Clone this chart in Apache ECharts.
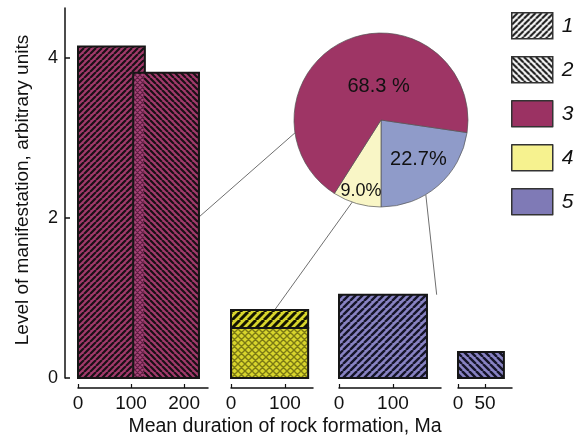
<!DOCTYPE html>
<html><head><meta charset="utf-8">
<script src="https://cdn.jsdelivr.net/npm/echarts@6/dist/echarts.min.js"></script>
<style>html,body{margin:0;padding:0;background:#fff}#c{width:579px;height:442px}</style>
</head><body><div id="c"></div>
<script>
// ---- data ----
const yTicks = [0, 2, 4];
const yMax = 4.62;
const axisMax = [245, 152, 189, 100];
const xTickLabels = [[0, 100, 200], [0, 100], [0, 100], [0, 50]];
const barGroup = [0, 0, 1, 1, 2, 3];
const barFrom = [0, 104, 0, 0, 0, 0];
const barTo = [126, 228, 143, 143, 163, 85];
const barLow = [0, 0, 0, 0.625, 0, 0];
const barHigh = [4.14, 3.81, 0.625, 0.85, 1.04, 0.325];
const barRock = ['3', '3', '4', '4', '5', '5'];
const barHatch = ['1', '2', '1+2', '1', '1', '2'];
const pieNames = ['5', '4', '3'];
const pieValues = [22.7, 9.0, 68.3];
const pieLabels = ['22.7%', '9.0%', '68.3 %'];
const legendNames = ['1', '2', '3', '4', '5'];
const linkBar = [[0, 228, 2.01], [1, 81, 0.85], [2, 181, 1.04]];
const linkAngle = [188.5, -109.3, -59];

// ---- styles ----
function makePattern(bg, ink, p, lw, dirs) {
  const c = document.createElement('canvas'); c.width = p; c.height = p;
  const g = c.getContext('2d');
  g.fillStyle = bg; g.fillRect(0, 0, p, p);
  g.strokeStyle = ink; g.lineWidth = lw;
  g.beginPath();
  dirs.forEach(d => {
    for (let k = -1; k <= 1; k++) {
      if (d === '/') { g.moveTo(k * p, p); g.lineTo(k * p + p, 0); }
      else { g.moveTo(k * p, 0); g.lineTo(k * p + p, p); }
    }
  });
  g.stroke();
  return { image: c, repeat: 'repeat' };
}
const fills = {
  '3|1': makePattern('#a23a6b', '#1a1016', 6, 2.2, ['/']),
  '3|2': makePattern('#a23a6b', '#1a1016', 6, 2.2, ['\\']),
  '3|1+2': makePattern('#a8457a', '#5e1e40', 5, 1.1, ['/', '\\']),
  '4|1': makePattern('#d8d52c', '#141400', 8, 3, ['/']),
  '4|1+2': makePattern('#d8d52c', '#7c7a14', 7, 1.4, ['/', '\\']),
  '5|1': makePattern('#8883c3', '#16152a', 7, 2.4, ['/']),
  '5|2': makePattern('#8883c3', '#16152a', 7, 2.4, ['\\'])
};
const legendFills = [
  makePattern('#ffffff', '#111111', 6, 2, ['/']),
  makePattern('#ffffff', '#111111', 6, 2, ['\\']),
  '#9b3263', '#f6f28f', '#7f7ab6'
];
const pieColors = ['#8f9bc9', '#f9f6c6', '#9e3565'];
const pieCenter = [381, 120], pieRadius = 87;

// ---- pieces per group ----
const groups = [[], [], [], []];
barGroup.forEach((g, i) => {
  groups[g].push({ v: [barFrom[i], barTo[i], barLow[i], barHigh[i]], key: barRock[i] + '|' + barHatch[i], overlap: false });
});
{
  const f = Math.max(barFrom[0], barFrom[1]), t = Math.min(barTo[0], barTo[1]);
  if (t > f) groups[0].push({ v: [f, t, 0, Math.min(barHigh[0], barHigh[1])], key: '3|1+2', overlap: true });
}

const gridPos = [{ left: 78, width: 130 }, { left: 231, width: 82 }, { left: 339, width: 102 }, { left: 458, width: 54 }];
const ink = '#111';

const option = {
  animation: false,
  textStyle: { fontFamily: 'Liberation Sans, Arial, sans-serif' },
  title: {
    text: 'Mean duration of rock formation, Ma', left: 280, top: 412, textAlign: 'center',
    textStyle: { fontSize: 19.5, fontWeight: 'normal', color: ink }
  },
  legend: {
    orient: 'vertical', left: 511, top: 12, padding: 0, itemWidth: 41, itemHeight: 26, itemGap: 16.5,
    icon: 'rect', selectedMode: false,
    textStyle: { fontSize: 21, fontStyle: 'italic', color: ink, padding: [0, 0, 0, 4] },
    data: legendNames.map((n, i) => ({ name: n, itemStyle: { color: legendFills[i], borderColor: '#333', borderWidth: 1.5 } }))
  },
  grid: gridPos.map(p => ({ left: p.left, width: p.width, top: 8, bottom: 64, containLabel: false, outerBoundsMode: 'none' })),
  xAxis: gridPos.map((p, i) => ({
    type: 'value', gridIndex: i, min: 0, max: axisMax[i], offset: 10,
    axisLine: { show: true, onZero: false, lineStyle: { color: ink, width: 1.5 } },
    axisTick: { show: true, inside: true, length: 4, customValues: xTickLabels[i], lineStyle: { color: ink, width: 1.2 } },
    axisLabel: { customValues: xTickLabels[i], fontSize: 19, color: ink, margin: 6 },
    splitLine: { show: false }
  })),
  yAxis: gridPos.map((p, i) => ({
    type: 'value', gridIndex: i, min: 0, max: yMax, show: i === 0, offset: 13,
    axisLine: { show: true, onZero: false, lineStyle: { color: ink, width: 1.5 } },
    axisTick: { show: true, inside: true, length: 5, customValues: yTicks, lineStyle: { color: ink, width: 1.5 } },
    axisLabel: { customValues: yTicks, fontSize: 18, color: ink, margin: 7 },
    splitLine: { show: false },
    name: i === 0 ? 'Level of manifestation, arbitrary units' : '',
    nameLocation: 'middle', nameGap: 33,
    nameTextStyle: { fontSize: 19, color: ink, padding: [0, 0, 0, 6] }
  })),
  series: [
    ...groups.map((pieces, g) => ({
      type: 'custom', name: 'group' + g, xAxisIndex: g, yAxisIndex: g, clip: false,
      encode: { x: [0, 1], y: [2, 3] },
      data: pieces.map(p => p.v),
      renderItem: (params, api) => {
        const pc = pieces[params.dataIndex];
        const a = api.coord([api.value(0), api.value(3)]);
        const b = api.coord([api.value(1), api.value(2)]);
        const x = a[0], y = a[1], w = b[0] - a[0], h = b[1] - a[1];
        if (pc.overlap) {
          return { type: 'rect', shape: { x: x + 1.2, y: y + 1.2, width: w - 2.4, height: h - 2.4 }, style: { fill: fills[pc.key] } };
        }
        return { type: 'rect', shape: { x, y, width: w, height: h }, style: { fill: fills[pc.key], stroke: '#161616', lineWidth: 2 } };
      }
    })),
    { type: 'custom', name: '1', xAxisIndex: 0, yAxisIndex: 0, data: [], renderItem: () => null },
    { type: 'custom', name: '2', xAxisIndex: 0, yAxisIndex: 0, data: [], renderItem: () => null },
    {
      type: 'pie', center: pieCenter, radius: pieRadius, startAngle: 351.7, clockwise: true,
      avoidLabelOverlap: false, silent: true, z: 5,
      itemStyle: { borderColor: '#555', borderWidth: 0.7 },
      label: { show: true, position: 'inside', color: ink, fontSize: 20,
        formatter: p => pieLabels[p.dataIndex] },
      labelLine: { show: false },
      labelLayout: p => {
        const s = [[3.5, 2], [-3.5, 13], [8.5, 4.5]][p.dataIndex];
        return { dx: s[0], dy: s[1] };
      },
      data: pieNames.map((n, i) => ({
        name: n, value: pieValues[i], itemStyle: { color: pieColors[i] },
        label: i === 1 ? { fontSize: 18 } : undefined
      }))
    }
  ]
};

const chart = echarts.init(document.getElementById('c'), null, { renderer: 'canvas' });
chart.setOption(option);
chart.setOption({
  graphic: linkBar.map((lb, i) => {
    const p = chart.convertToPixel({ gridIndex: lb[0] }, [lb[1], lb[2]]);
    const ang = linkAngle[i] * Math.PI / 180;
    return {
      type: 'line', z: 1, silent: true,
      shape: { x1: p[0], y1: p[1], x2: pieCenter[0] + pieRadius * Math.cos(ang), y2: pieCenter[1] - pieRadius * Math.sin(ang) },
      style: { stroke: '#6f6f6f', lineWidth: 1 }
    };
  })
});
</script></body></html>
